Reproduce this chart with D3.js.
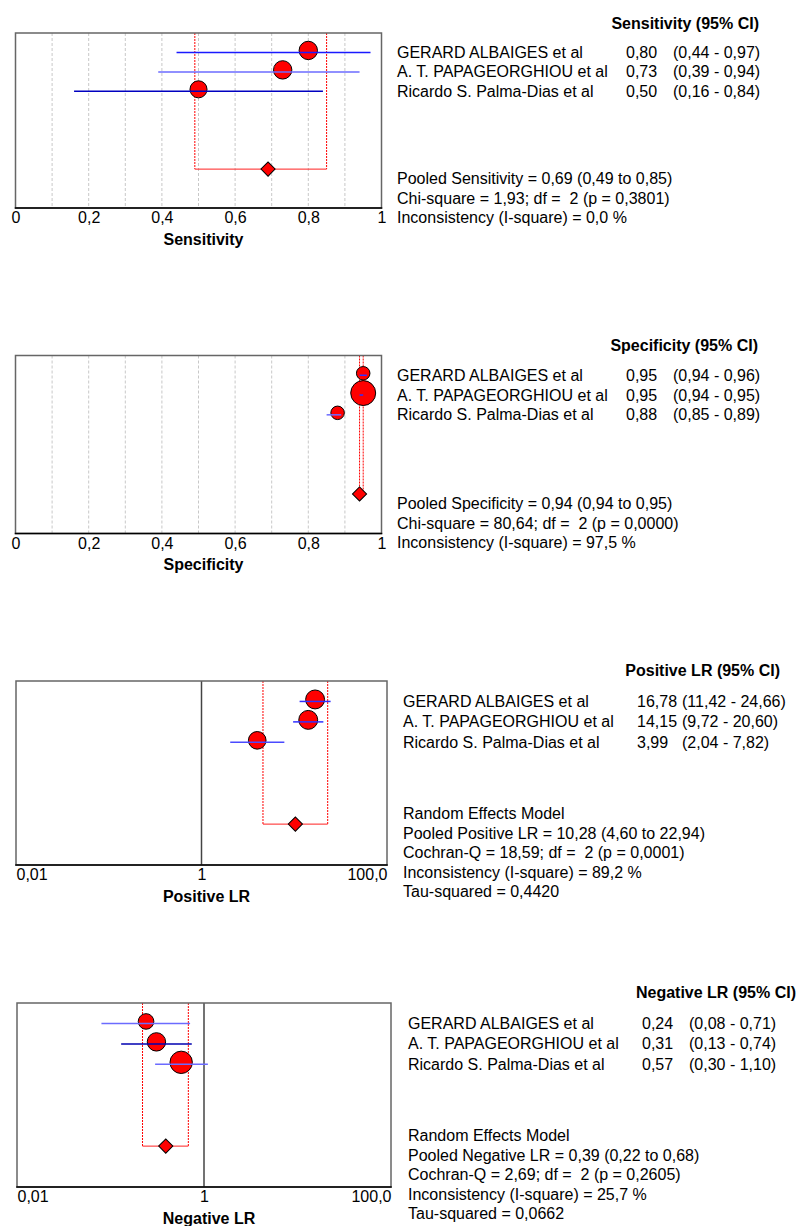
<!DOCTYPE html>
<html>
<head>
<meta charset="utf-8">
<script src="https://cdn.jsdelivr.net/npm/d3@7"></script>
<style>
  body { margin: 0; background: #fff; }
  svg { font-family: "Liberation Sans", Arial, sans-serif; }
</style>
</head>
<body>
<svg width="797" height="1226"></svg>
<script>
var studies = ["GERARD ALBAIGES et al", "A. T. PAPAGEORGHIOU et al", "Ricardo S. Palma-Dias et al"];

// sensitivity
var sensEst = [0.80, 0.73, 0.50],
  sensLow = [0.44, 0.39, 0.16],
  sensHigh = [0.97, 0.94, 0.84],
  sensWeight = [50, 50, 43],
  sensPooled = [0.69, 0.49, 0.85],
  sensStats = ["Chi-square = 1,93; df =  2 (p = 0,3801)", "Inconsistency (I-square) = 0,0 %"];

// specificity
var specEst = [0.95, 0.95, 0.88],
  specLow = [0.94, 0.94, 0.85],
  specHigh = [0.96, 0.95, 0.89],
  specWeight = [27, 92, 27],
  specPooled = [0.94, 0.94, 0.95],
  specStats = ["Chi-square = 80,64; df =  2 (p = 0,0000)", "Inconsistency (I-square) = 97,5 %"];

// positive LR
var posEst = [16.78, 14.15, 3.99],
  posLow = [11.42, 9.72, 2.04],
  posHigh = [24.66, 20.60, 7.82],
  posWeight = [53, 53, 46],
  posPooled = [10.28, 4.60, 22.94],
  posStats = ["Cochran-Q = 18,59; df =  2 (p = 0,0001)", "Inconsistency (I-square) = 89,2 %", "Tau-squared = 0,4420"];

// negative LR
var negEst = [0.24, 0.31, 0.57],
  negLow = [0.08, 0.13, 0.30],
  negHigh = [0.71, 0.74, 1.10],
  negWeight = [36, 50, 74],
  negPooled = [0.39, 0.22, 0.68],
  negStats = ["Cochran-Q = 2,69; df =  2 (p = 0,2605)", "Inconsistency (I-square) = 25,7 %", "Tau-squared = 0,0662"];

var propTicks = [0, 0.2, 0.4, 0.6, 0.8, 1];
var lrTicks = [0.01, 1, 100],
  lrTickLabels = ["0,01", "1", "100,0"];

var svg = d3.select("svg");

var locale = d3.formatLocale({decimal: ",", thousands: ".", grouping: [3], currency: ["", ""]});
var f2 = locale.format(".2f"),
  fTick = locale.format("~g");

var r = d3.scaleSqrt().domain([0, 100]).range([0, 13]);

var panels = [
  {title: "Sensitivity (95% CI)", axisTitle: "Sensitivity", pooledName: "Pooled Sensitivity",
    est: sensEst, low: sensLow, high: sensHigh, weight: sensWeight, pooled: sensPooled, stats: sensStats,
    log: false, box: [15.5, 33, 381.5, 208], nameX: 397, valX: 626, ciX: 673, titleX: 759, statsRow: 7.5,
    ciColors: ["#1a1aff", "#6b6bff", "#0000c0"]},
  {title: "Specificity (95% CI)", axisTitle: "Specificity", pooledName: "Pooled Specificity",
    est: specEst, low: specLow, high: specHigh, weight: specWeight, pooled: specPooled, stats: specStats,
    log: false, box: [15.5, 355.5, 381.5, 533.5], nameX: 397, valX: 626, ciX: 673, titleX: 758, statsRow: 7.5,
    ciColors: ["#3030ff", "#3030ff", "#6b6bff"]},
  {title: "Positive LR (95% CI)", axisTitle: "Positive LR", pooledName: "Pooled Positive LR",
    est: posEst, low: posLow, high: posHigh, weight: posWeight, pooled: posPooled, stats: posStats,
    log: true, box: [16, 681, 387, 865], nameX: 403, valX: 637, ciX: 682, titleX: 780, statsRow: 6.5,
    ciColors: ["#3030ff", "#3030ff", "#4a4aff"]},
  {title: "Negative LR (95% CI)", axisTitle: "Negative LR", pooledName: "Pooled Negative LR",
    est: negEst, low: negLow, high: negHigh, weight: negWeight, pooled: negPooled, stats: negStats,
    log: true, box: [17, 1003, 391, 1187], nameX: 408, valX: 642, ciX: 689, titleX: 796, statsRow: 6.5,
    ciColors: ["#6b6bff", "#0000b0", "#6b6bff"]}
];

panels.forEach(function(p) {
  var x = p.log ? d3.scaleLog().domain([0.01, 100]) : d3.scaleLinear().domain([0, 1]);
  x.range([p.box[0], p.box[2]]);
  var y = d3.scaleLinear().domain([0, 9]).range([p.box[1], p.box[3]]);
  var g = svg.append("g");

  var rows = p.est.map(function(d, i) {
    return {name: studies[i], est: d, low: p.low[i], high: p.high[i], weight: p.weight[i], row: i + 1};
  });

  // grid / reference line
  if (!p.log) {
    g.selectAll(null)
      .data(d3.range(1, 10).map(function(i) { return i / 10; }))
      .enter()
      .append("line")
      .attr("x1", function(d) { return x(d); })
      .attr("x2", function(d) { return x(d); })
      .attr("y1", p.box[1])
      .attr("y2", p.box[3])
      .attr("stroke", "#c8c8c8")
      .attr("stroke-dasharray", "3,2");
  } else {
    g.append("line")
      .attr("x1", x(1)).attr("x2", x(1))
      .attr("y1", p.box[1]).attr("y2", p.box[3])
      .attr("stroke", "#444")
      .attr("stroke-width", 1.5);
  }

  // pooled CI
  g.selectAll(null)
    .data([p.pooled[1], p.pooled[2]])
    .enter()
    .append("line")
    .attr("x1", function(d) { return x(d); })
    .attr("x2", function(d) { return x(d); })
    .attr("y1", p.box[1])
    .attr("y2", y(7))
    .attr("stroke", "#ff0000")
    .attr("stroke-dasharray", "2,1");
  g.append("line")
    .attr("x1", x(p.pooled[1]))
    .attr("x2", x(p.pooled[2]))
    .attr("y1", y(7))
    .attr("y2", y(7))
    .attr("stroke", "#ff2020");

  // study points
  g.selectAll(null)
    .data(rows)
    .enter()
    .append("circle")
    .attr("cx", function(d) { return x(d.est); })
    .attr("cy", function(d) { return y(d.row) - 2; })
    .attr("r", function(d) { return r(d.weight); })
    .attr("fill", "#ff0000")
    .attr("stroke", "#000")
    .attr("stroke-width", 1);

  g.selectAll(null)
    .data(rows)
    .enter()
    .append("line")
    .attr("x1", function(d) { return x(d.low); })
    .attr("x2", function(d) { return x(d.high); })
    .attr("y1", function(d) { return y(d.row); })
    .attr("y2", function(d) { return y(d.row); })
    .attr("stroke", function(d, i) { return p.ciColors[i]; })
    .attr("stroke-width", 1.5);

  // pooled diamond
  g.append("path")
    .attr("d", d3.symbol(d3.symbolSquare, 100)())
    .attr("transform", "translate(" + x(p.pooled[0]) + "," + y(7) + ") rotate(45)")
    .attr("fill", "#ff0000")
    .attr("stroke", "#000")
    .attr("stroke-width", 1);

  // frame
  g.append("rect")
    .attr("x", p.box[0])
    .attr("y", p.box[1])
    .attr("width", p.box[2] - p.box[0])
    .attr("height", p.box[3] - p.box[1])
    .attr("fill", "none")
    .attr("stroke", "#666")
    .attr("stroke-width", 1.5);
  g.append("line")
    .attr("x1", p.box[0] - 0.75).attr("x2", p.box[2] + 0.75)
    .attr("y1", p.box[3]).attr("y2", p.box[3])
    .attr("stroke", "#000")
    .attr("stroke-width", 1.5);

  // x axis
  var axis = d3.axisBottom(x).tickSize(0).tickPadding(4);
  if (p.log) {
    axis.tickValues(lrTicks).tickFormat(function(d, i) { return lrTickLabels[i]; });
  } else {
    axis.tickValues(propTicks).tickFormat(fTick);
  }
  var ax = g.append("g")
    .attr("transform", "translate(0," + p.box[3] + ")")
    .call(axis);
  ax.select(".domain").remove();
  ax.attr("font-family", null).attr("font-size", 16);
  ax.selectAll("text").attr("fill", "#000");
  if (p.log) {
    ax.selectAll("text").attr("text-anchor", function(d, i) {
      return i === 0 ? "start" : (i === lrTicks.length - 1 ? "end" : "middle");
    });
  }

  g.append("text")
    .attr("x", (p.box[0] + p.box[2]) / 2 + 5)
    .attr("y", p.box[3] + 31)
    .attr("dy", "0.35em")
    .attr("text-anchor", "middle")
    .attr("font-size", 16)
    .attr("font-weight", "bold")
    .text(p.axisTitle);

  // right-hand table
  g.append("text")
    .attr("x", p.titleX)
    .attr("y", y(-0.5))
    .attr("dy", "0.35em")
    .attr("text-anchor", "end")
    .attr("font-size", 16)
    .attr("font-weight", "bold")
    .text(p.title);

  var tr = g.selectAll(null)
    .data(rows)
    .enter()
    .append("g")
    .attr("transform", function(d) { return "translate(0," + y(d.row) + ")"; })
    .attr("font-size", 16);
  tr.append("text")
    .attr("x", p.nameX)
    .attr("dy", "0.35em")
    .text(function(d) { return d.name; });
  tr.append("text")
    .attr("x", p.valX)
    .attr("dy", "0.35em")
    .text(function(d) { return f2(d.est); });
  tr.append("text")
    .attr("x", p.ciX)
    .attr("dy", "0.35em")
    .text(function(d) { return "(" + f2(d.low) + " - " + f2(d.high) + ")"; });

  var lines = [p.pooledName + " = " + f2(p.pooled[0]) + " (" + f2(p.pooled[1]) + " to " + f2(p.pooled[2]) + ")"]
    .concat(p.stats);
  if (p.log) lines.unshift("Random Effects Model");

  g.selectAll(null)
    .data(lines)
    .enter()
    .append("text")
    .attr("x", p.nameX)
    .attr("y", function(d, i) { return y(p.statsRow) + i * 19.5; })
    .attr("dy", "0.35em")
    .attr("font-size", 16)
    .style("white-space", "pre")
    .text(function(d) { return d; });
});
</script>
</body>
</html>
